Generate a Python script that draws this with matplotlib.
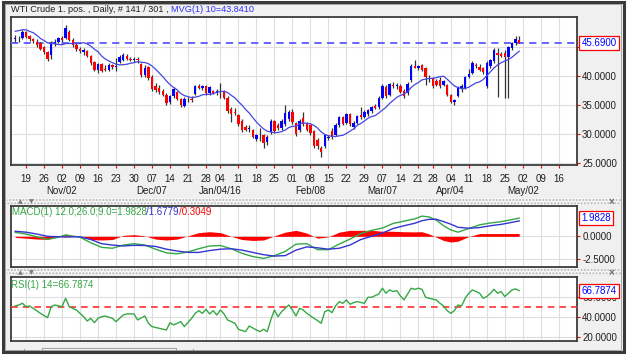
import numpy as np
import pandas as pd
import matplotlib
matplotlib.use("Agg")
import matplotlib.pyplot as plt
import matplotlib.transforms as mtransforms
from matplotlib.patches import Rectangle

# ---------------- data ----------------
first_day = "2015-10-14"
last_axis_day = "2016-05-20"
holidays = ["2016-01-01", "2016-03-25"]

open_ = [46.4, 46.5, 46.6, 47.5, 46.9, 46.4, 45.9, 45.6, 44.9, 44.1,
         43.6, 45.6, 45.9, 46.5, 46.6, 47.6, 46.2, 45.3, 44.6, 44.2,
         44.3, 43.4, 42.4, 41.0, 42.0, 41.2, 41.0, 41.9, 41.6, 42.4,
         42.8, 43.5, 43.0, 42.8, 42.9, 42.0, 40.1, 41.6, 39.8, 38.3,
         37.9, 37.5, 36.8, 35.6, 36.5, 37.2, 36.1, 34.9, 36.0, 36.1,
         36.9, 38.2, 38.0, 38.3, 37.0, 37.4, 37.1, 37.4, 37.4, 36.3,
         34.4, 33.9, 33.3, 32.3, 31.2, 30.9, 30.7, 29.1, 29.8, 29.8,
         28.6, 30.3, 32.2, 31.6, 31.0, 31.7, 32.6, 33.9, 31.9, 30.7,
         32.7, 31.8, 31.5, 30.6, 29.0, 27.6, 27.9, 29.4, 30.6, 29.9,
         31.6, 32.9, 31.9, 33.4, 31.3, 31.9, 33.3, 33.0, 33.5, 34.0,
         34.8, 34.6, 36.3, 38.1, 36.7, 38.5, 38.3, 38.3, 37.5, 37.1,
         39.3, 41.8, 41.4, 41.9, 41.3, 39.6, 39.6, 39.2, 39.4, 38.5,
         38.4, 36.7, 35.5, 36.6, 37.8, 38.0, 39.8, 40.5, 41.9, 41.6,
         41.4, 38.2, 41.7, 42.5, 43.9, 43.8, 43.9, 43.2, 44.8, 45.7,
         46.2]
high = [47.0, 46.9, 47.9, 47.8, 47.1, 46.6, 46.4, 45.8, 45.1, 44.3,
        46.0, 46.3, 46.7, 46.9, 48.7, 47.9, 46.5, 45.6, 45.0, 44.8,
        44.5, 43.6, 42.6, 42.2, 42.3, 41.9, 42.2, 42.0, 43.1, 43.6,
        43.9, 43.7, 43.3, 43.3, 43.2, 42.3, 41.9, 41.8, 40.2, 38.8,
        38.4, 37.8, 37.0, 36.7, 38.1, 37.4, 36.3, 36.4, 36.4, 36.5,
        38.4, 38.6, 38.4, 38.5, 38.3, 37.6, 37.8, 38.8, 37.6, 36.5,
        34.6, 34.5, 33.5, 32.6, 31.6, 31.6, 30.9, 30.1, 31.0, 30.1,
        29.9, 32.6, 32.4, 31.9, 32.6, 35.0, 34.2, 34.3, 32.1, 32.6,
        33.9, 32.1, 31.8, 30.8, 29.4, 27.9, 30.1, 29.9, 31.0, 31.9,
        33.2, 33.1, 33.7, 33.6, 32.2, 33.3, 34.7, 34.1, 34.4, 34.8,
        35.2, 36.6, 38.6, 38.4, 38.8, 38.9, 38.8, 38.6, 37.7, 38.9,
        42.0, 42.8, 41.9, 42.0, 41.5, 40.2, 39.9, 39.5, 39.9, 39.4,
        38.6, 36.9, 36.1, 38.3, 38.6, 40.0, 41.2, 42.5, 42.3, 42.0,
        41.6, 42.6, 43.0, 44.8, 44.8, 44.2, 44.4, 45.2, 45.9, 46.8,
        46.9]
low = [45.9, 45.9, 46.4, 46.5, 46.1, 45.7, 44.9, 44.4, 43.8, 42.6,
       42.9, 45.1, 45.6, 45.8, 46.3, 46.0, 45.0, 44.3, 43.9, 43.6,
       43.2, 41.9, 40.9, 40.6, 40.7, 40.9, 40.8, 41.2, 40.9, 42.2,
       42.5, 42.8, 42.6, 42.4, 42.3, 39.8, 39.9, 39.4, 37.5, 37.3,
       36.9, 36.6, 35.0, 35.2, 36.2, 35.8, 34.6, 34.6, 35.5, 35.6,
       36.7, 37.8, 37.6, 36.8, 36.8, 36.9, 36.8, 36.3, 36.1, 33.7,
       32.1, 33.3, 31.4, 30.4, 30.5, 30.3, 29.3, 28.9, 28.8, 27.7,
       28.2, 30.1, 30.2, 30.8, 30.7, 31.4, 32.3, 31.7, 29.7, 30.4,
       31.4, 30.5, 29.9, 27.7, 27.5, 26.1, 27.7, 29.0, 29.2, 29.7,
       31.3, 31.5, 31.7, 31.4, 30.9, 31.7, 32.6, 32.8, 33.2, 33.7,
       34.3, 34.4, 36.1, 36.2, 36.5, 38.0, 37.8, 37.0, 36.2, 36.8,
       39.0, 41.3, 41.0, 40.9, 38.4, 38.9, 38.0, 38.3, 38.0, 38.3,
       36.6, 35.3, 35.1, 36.4, 37.3, 37.7, 39.6, 40.3, 41.3, 40.8,
       40.3, 37.9, 41.4, 42.2, 36.4, 43.2, 36.2, 36.3, 44.5, 45.4,
       45.6]
close = [46.6, 46.5, 47.6, 46.7, 46.3, 46.0, 45.4, 44.7, 44.1, 43.0,
         45.6, 45.9, 46.5, 46.2, 48.3, 46.2, 45.3, 44.6, 44.3, 44.4,
         43.4, 42.2, 41.1, 42.0, 40.9, 41.1, 41.9, 41.6, 41.7, 43.3,
         43.6, 43.0, 42.8, 42.9, 42.7, 40.1, 41.4, 39.7, 37.8, 37.6,
         37.2, 36.8, 35.4, 36.5, 37.8, 36.0, 35.1, 36.1, 36.0, 35.9,
         38.2, 38.0, 38.2, 37.0, 38.1, 37.1, 37.5, 37.3, 36.3, 34.0,
         33.4, 33.7, 31.7, 30.8, 30.8, 31.0, 29.6, 29.8, 29.8, 28.5,
         29.5, 32.3, 30.5, 31.1, 32.3, 33.7, 33.9, 32.1, 30.0, 32.3,
         31.7, 30.8, 30.2, 28.0, 27.9, 26.9, 29.8, 29.6, 29.5, 31.6,
         32.9, 31.7, 33.4, 31.8, 31.9, 33.1, 32.9, 33.9, 34.2, 34.6,
         34.5, 36.3, 38.3, 36.5, 38.6, 38.2, 38.3, 37.2, 36.5, 38.6,
         41.8, 41.4, 41.7, 41.1, 39.8, 39.5, 38.3, 38.5, 38.3, 39.1,
         36.8, 35.6, 35.9, 38.1, 38.3, 39.8, 40.4, 42.3, 41.8, 41.0,
         40.7, 42.3, 42.8, 44.4, 43.6, 43.5, 43.2, 45.0, 45.7, 46.4,
         45.69]
prior_closes = [45.3, 46.1, 46.8, 49.0, 48.3, 49.9, 50.1, 47.6, 47.1]
ma_period = 10
last_price = 45.69
ma_label_value = 43.8410

macd_bar = [0, 3, 6, 9, 12, 14, 18, 21, 24, 27,
            30, 33, 36, 39, 42, 45, 48, 51, 54, 57,
            60, 63, 66, 69, 72, 75, 78, 81, 84, 87,
            90, 93, 96, 99, 102, 105, 108, 111, 113, 115,
            117, 119, 121, 123, 126, 129, 132, 135, 138, 140]
macd_line = [0.43, 0.25, -0.05, -0.33, -0.10, 0.15, -0.10, -0.70, -1.20, -1.30,
             -0.95, -0.80, -0.95, -1.40, -1.80, -1.90, -1.70, -1.35, -1.05, -1.00,
             -1.35, -1.85, -2.20, -2.40, -2.10, -1.65, -0.85, -0.80, -1.45, -1.45,
             -0.85, -0.30, 0.30, 0.65, 0.90, 1.40, 1.65, 1.90, 2.20, 2.10,
             1.75, 1.15, 0.70, 0.45, 0.85, 1.25, 1.45, 1.60, 1.82, 1.9828]
signal_line = [0.55, 0.45, 0.25, 0.00, -0.05, -0.08, -0.05, -0.35, -0.80, -0.95,
               -1.05, -0.98, -1.00, -1.10, -1.40, -1.60, -1.75, -1.75, -1.55, -1.40,
               -1.35, -1.50, -1.75, -2.00, -2.15, -2.10, -1.50, -1.15, -1.25, -1.40,
               -1.30, -0.95, -0.35, 0.00, 0.35, 0.85, 1.15, 1.42, 1.70, 1.85,
               1.85, 1.60, 1.32, 0.98, 0.88, 0.95, 1.15, 1.30, 1.52, 1.6779]
macd_label = (1.9828, 1.6779, 0.3049)

rsi_bar = [0, 1, 2, 3, 4, 5, 7, 9, 10, 11, 13, 14, 15, 17, 19, 20, 21, 22, 23, 24,
           25, 27, 28, 30, 31, 33, 34, 36, 37, 38, 40, 42, 43, 44, 46, 47, 49, 50, 51, 52,
           53, 54, 55, 56, 57, 58, 59, 61, 62, 64, 65, 67, 68, 69, 70, 71, 72, 73, 74, 76,
           77, 78, 79, 80, 81, 83, 84, 85, 86, 87, 88, 89, 90, 91, 92, 93, 94, 95, 97, 98,
           99, 101, 102, 103, 104, 105, 106, 107, 108, 110, 111, 112, 113, 114, 115, 117, 118, 119, 120, 121,
           122, 123, 124, 125, 126, 127, 128, 129, 130, 131, 132, 133, 134, 135, 136, 137, 138, 139, 140]
rsi_value = [51.2, 52.2, 53.9, 50.5, 51.2, 48.8, 43.7, 39.3, 50.5, 52.2, 50.5, 59.0, 50.5, 47.1, 40.3, 35.9, 38.6, 34.2, 38.6, 40.3,
             41.0, 38.6, 35.3, 42.0, 43.1, 43.1, 37.0, 41.0, 33.6, 30.2, 28.5, 26.8, 34.2, 31.9, 35.3, 30.2, 38.6, 43.7, 46.4, 43.7,
             47.8, 43.1, 46.4, 42.0, 47.1, 43.1, 37.0, 33.6, 27.5, 25.1, 30.8, 26.8, 25.1, 27.5, 25.1, 37.0, 47.1, 40.3, 45.4, 52.2,
             47.1, 41.0, 48.8, 47.1, 43.7, 38.6, 36.3, 33.6, 45.4, 47.1, 44.4, 51.2, 55.6, 53.9, 57.3, 52.9, 54.6, 55.6, 53.9, 60.0,
             60.0, 63.4, 69.2, 64.1, 67.5, 65.8, 66.8, 61.4, 57.3, 69.2, 68.1, 69.2, 68.1, 60.0, 59.0, 57.3, 53.9, 51.2, 46.4, 43.7,
             46.4, 52.2, 51.2, 59.0, 64.1, 67.5, 65.8, 64.1, 59.0, 60.7, 64.1, 68.1, 64.1, 65.8, 60.7, 64.1, 67.5, 68.5, 66.7874]
rsi_level = 50

price_ticks = [25, 30, 35, 40, 45]
macd_ticks = [0.0, -2.5]
rsi_ticks = [60, 40, 20]
month_label_dates = ["2015-11-02", "2015-12-07", "2016-01-04", "2016-02-08",
                     "2016-03-07", "2016-04-04", "2016-05-02"]
month_labels = ["Nov/02", "Dec/07", "Jan/04/16", "Feb/08", "Mar/07", "Apr/04", "May/02"]

title_main = "WTI Crude 1. pos. , Daily, # 141 / 301 , "
title_ma = f"MVG(1) {ma_period}={ma_label_value:.4f}"

# ---------------- style ----------------
plt.rcParams['font.family'] = ['Liberation Sans', 'DejaVu Sans']
W, H = 628, 356
FS = 7
BG = '#f0f0f0'
GREEN = '#35a845'
BLUE = '#3434d4'
RED = '#ff0000'
TXT = '#202020'

fig = plt.figure(figsize=(W / 100, H / 100), dpi=100, facecolor='white')
renderer = fig.canvas.get_renderer()


def px_box(l, t, r, b):
    return [l / W, 1 - b / H, (r - l) / W, (b - t) / H]


def fy(y):
    return 1 - y / H


# background
fig.add_artist(Rectangle((2.5 / W, fy(352)), 621.5 / W, 350 / H, transform=fig.transFigure,
                         fc=BG, ec='none', zorder=-10))

# calendar of trading bars
cal = pd.bdate_range(first_day, last_axis_day)
cal = cal[~cal.isin(pd.to_datetime(holidays))]
pos = {d: i for i, d in enumerate(cal)}
n = len(close)
x = np.arange(n)
week_ticks = [i for i, d in enumerate(cal) if d.weekday() == 0 and d >= pd.Timestamp("2015-10-19")]
week_labels = [cal[i].strftime("%d") for i in week_ticks]
XL = (-1.25, 156.06)

ax = fig.add_axes(px_box(10.7, 16.7, 577, 165))
ax_m = fig.add_axes(px_box(10.7, 205.7, 577, 267.3))
ax_r = fig.add_axes(px_box(10.7, 277.3, 577, 340.7))


def style(a, ticks, ylim, xlabels):
    a.set_xlim(XL)
    a.set_ylim(ylim)
    a.set_facecolor('white')
    for s in a.spines.values():
        s.set_color('#3c3c3c')
        s.set_linewidth(1.3)
    a.yaxis.tick_right()
    a.set_yticks(ticks)
    a.set_yticklabels([f"{v:.4f}" for v in ticks])
    a.set_xticks(week_ticks)
    a.grid(True, color='#dedede', lw=0.8)
    a.set_axisbelow(True)
    a.tick_params(axis='y', colors=RED, length=2.5, width=0.8, labelcolor=TXT,
                  labelsize=FS, pad=1.2)
    if xlabels:
        a.set_xticklabels(week_labels)
        a.tick_params(axis='x', colors=RED, length=2.5, width=0.8, labelcolor=TXT,
                      labelsize=FS, pad=3.8)
    else:
        a.tick_params(axis='x', length=0, labelbottom=False)


style(ax, price_ticks, (24.71, 50.19), True)
style(ax_m, macd_ticks, (-3.37, 3.33), False)
style(ax_r, rsi_ticks, (15.9, 80.3), False)

# ---- candles ----
o = np.array(open_)
c = np.array(close)
h = np.array(high)
l = np.array(low)
up = c >= o
ax.axhline(last_price, color='#5a5aff', lw=1.3, dashes=(4, 3), zorder=2.6)
ax.vlines(x, l, h, color='#333333', lw=0.9, zorder=3)
body_b = np.minimum(o, c)
body_h = np.maximum(np.abs(c - o), 0.08)
ax.bar(x, body_h, bottom=body_b, width=0.66, color=np.where(up, '#0000ff', RED), lw=0, zorder=4)

ma = pd.Series(prior_closes + close).rolling(ma_period).mean().to_numpy()[len(prior_closes):]
ax.plot(x, ma, color='#4646e0', lw=0.9, zorder=5)

trans = mtransforms.blended_transform_factory(ax.transData, ax.transAxes)
for d, lab in zip(month_label_dates, month_labels):
    ax.text(pos[pd.Timestamp(d)], -0.176, lab, transform=trans, ha='center', va='center',
            fontsize=FS, color=TXT)


def value_box(a, val, txt):
    a.annotate(txt, xy=(1, val), xycoords=('axes fraction', 'data'), xytext=(3.2, 0),
               textcoords='offset points', ha='left', va='center', fontsize=FS, color='#0000ff',
               bbox=dict(boxstyle='square,pad=0.2', fc='white', ec=RED, lw=0.9),
               annotation_clip=False, zorder=20)


value_box(ax, last_price, f"{last_price:.4f}")

# ---- MACD ----
mb = np.array(macd_bar)
ml = np.array(macd_line)
sl = np.array(signal_line)
hist = ml - sl
ax_m.fill_between(mb, hist, 0, color=RED, lw=0, zorder=2.7)
ax_m.plot(mb, ml, color=GREEN, lw=1.0, zorder=3)
ax_m.plot(mb, sl, color=BLUE, lw=1.0, zorder=3)
value_box(ax_m, macd_label[0], f"{macd_label[0]:.4f}")

# ---- RSI ----
ax_r.axhline(rsi_level, color='#ff3030', lw=1.2, dashes=(4, 3), zorder=2.6)
ax_r.plot(rsi_bar, rsi_value, color=GREEN, lw=1.0, zorder=3)
value_box(ax_r, rsi_value[-1], f"{rsi_value[-1]:.4f}")


# ---- texts ----
def rich_text(x_px, y_px, parts, size=FS):
    xx = x_px
    for txt, col in parts:
        t = fig.text(xx / W, fy(y_px), txt, color=col, fontsize=size, va='center', ha='left', zorder=30)
        bb = t.get_window_extent(renderer)
        xx += bb.width


rich_text(11, 10, [(title_main, TXT), (title_ma, '#3030ff')], size=6.6)
rich_text(11.5, 212, [(f"MACD(1) 12.0;26.0;9.0={macd_label[0]:.4f}", GREEN),
                      (f"/{macd_label[1]:.4f}", BLUE), (f"/{macd_label[2]:.4f}", RED)])
rich_text(11, 284.5, [(f"RSI(1) 14={rsi_value[-1]:.4f}", GREEN)])

# separator strips with icons
for top in (198.3, 269.3):
    fig.add_artist(Rectangle((7 / W, fy(top + 6.8)), 614 / W, 6.8 / H, transform=fig.transFigure,
                             fc='#f6f6f6', ec='#b8b8b8', hatch='.....', lw=0, zorder=1))
    fig.text(20 / W, fy(top + 3.2), "\u25B2", fontsize=4.5, color='#7a7a7a', ha='center', va='center',
             family='DejaVu Sans', zorder=2)
    fig.text(31 / W, fy(top + 3.2), "\u25BC", fontsize=4.5, color='#7a7a7a', ha='center', va='center',
             family='DejaVu Sans', zorder=2)
    fig.text(611 / W, fy(top + 3.2), "\u00D7", fontsize=7, color='#707070', ha='center', va='center',
             fontweight='bold', zorder=2)

# bottom scroll bar
fig.add_artist(Rectangle((42 / W, fy(353)), 134 / W, 5 / H, transform=fig.transFigure,
                         fc='#f8f8f8', ec='#a0a0a0', lw=0.8, zorder=5))
for xm in (24, 193):
    fig.add_artist(Rectangle((xm / W, fy(351)), 1 / W, 2 / H, transform=fig.transFigure,
                             fc='#909090', ec='none', zorder=5))

# outer frame on top
fig.add_artist(Rectangle((2.5 / W, fy(352)), 621.5 / W, 350 / H, transform=fig.transFigure,
                         fc='none', ec='#3a3a3a', lw=2.2, zorder=50))
fig.add_artist(Rectangle((5 / W, fy(349.5)), 616 / W, 346 / H, transform=fig.transFigure,
                         fc='none', ec='#9a9a9a', lw=0.6, zorder=50))

fig.savefig("out.png", dpi=100, facecolor='white')
